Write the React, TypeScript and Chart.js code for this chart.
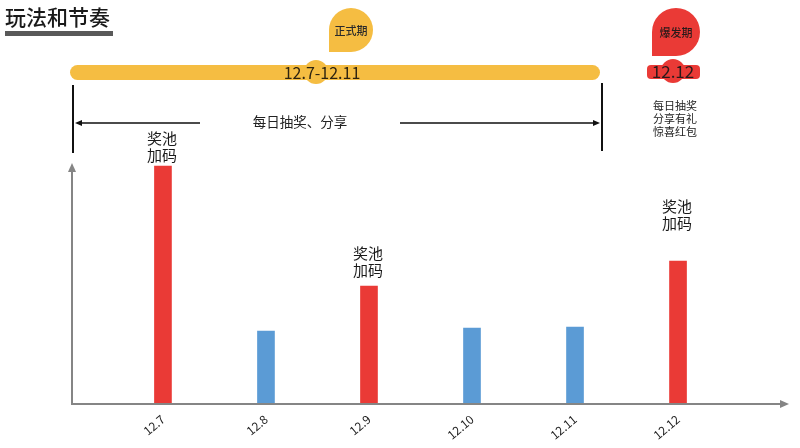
import React, { useEffect, useRef } from 'react';
import { Chart, registerables } from 'chart.js';

Chart.register(...registerables);

// ---- data ----
const categories = ['12.7', '12.8', '12.9', '12.10', '12.11', '12.12'];
const values = [238, 73, 118, 76, 77, 143];
const barKinds = ['boost', 'normal', 'boost', 'normal', 'normal', 'boost'];
const barNotes = ['奖池\n加码', '', '奖池\n加码', '', '', '奖池\n加码'];
const sideNotes = ['每日抽奖', '分享有礼', '惊喜红包'];
const titleText = '玩法和节奏';
const phaseNames = ['正式期', '爆发期'];
const phaseRanges = ['12.7-12.11', '12.12'];
const dailyText = '每日抽奖、分享';

// ---- styles ----
const FONT = '"Noto Sans CJK SC", "Noto Sans", sans-serif';
const RED = '#EA3A36';
const BLUE = '#5B9BD5';
const YELLOW = '#F5BD42';
const AXIS = '#858585';
const NOTE_GAP = [11, 0, 16, 0, 0, 38];

function teardrop(ctx: CanvasRenderingContext2D, cx: number, cy: number, r: number, color: string) {
  ctx.beginPath();
  ctx.moveTo(cx - r, cy);
  ctx.arc(cx, cy, r, Math.PI, Math.PI * 2.5, false);
  ctx.lineTo(cx - r, cy + r);
  ctx.closePath();
  ctx.fillStyle = color;
  ctx.fill();
}

function text(ctx: CanvasRenderingContext2D, s: string, x: number, y: number, size: number, color: string, align: CanvasTextAlign = 'center', weight = 'normal') {
  ctx.font = `${weight} ${size}px ${FONT}`;
  ctx.fillStyle = color;
  ctx.textAlign = align;
  ctx.textBaseline = 'middle';
  ctx.fillText(s, x, y);
}

const decorPlugin = {
  id: 'decor',
  afterDatasetsDraw(chart: any) {
    const ctx: CanvasRenderingContext2D = chart.ctx;
    const { left, right, top, bottom } = chart.chartArea;
    ctx.save();
    // axes
    ctx.strokeStyle = AXIS;
    ctx.lineWidth = 2;
    ctx.beginPath();
    ctx.moveTo(left, bottom);
    ctx.lineTo(left, top + 6);
    ctx.moveTo(left - 1, bottom);
    ctx.lineTo(right - 6, bottom);
    ctx.stroke();
    ctx.fillStyle = AXIS;
    ctx.beginPath();
    ctx.moveTo(left, top);
    ctx.lineTo(left - 4, top + 9);
    ctx.lineTo(left + 4, top + 9);
    ctx.closePath();
    ctx.fill();
    ctx.beginPath();
    ctx.moveTo(right - 1, bottom);
    ctx.lineTo(right - 10, bottom - 4);
    ctx.lineTo(right - 10, bottom + 4);
    ctx.closePath();
    ctx.fill();

    // bar notes
    const meta = chart.getDatasetMeta(0);
    meta.data.forEach((bar: any, i: number) => {
      const note = barNotes[i];
      if (!note) return;
      const lines = note.split('\n');
      lines.forEach((ln: string, k: number) => {
        const y = bar.y - NOTE_GAP[i] - 17 * (lines.length - 1 - k);
        text(ctx, ln, bar.x - 1, y, 15, '#1a1a1a');
      });
    });

    // title
    text(ctx, titleText, 5, 17, 21, '#1a1a1a', 'left', '500');
    ctx.fillStyle = '#595959';
    ctx.fillRect(5, 31, 108, 5);

    // yellow phase bar
    ctx.fillStyle = YELLOW;
    ctx.beginPath();
    (ctx as any).roundRect(70, 65, 530, 15, 7.5);
    ctx.fill();
    ctx.beginPath();
    ctx.arc(316, 72, 12, 0, Math.PI * 2);
    ctx.fill();
    teardrop(ctx, 351, 30, 22, YELLOW);
    text(ctx, phaseNames[0], 351, 31, 11, '#2a2a2a', 'center', '500');
    text(ctx, phaseRanges[0], 322, 73, 16, '#2e2410');

    // red phase
    ctx.fillStyle = RED;
    ctx.beginPath();
    (ctx as any).roundRect(647, 65, 53, 14, 4);
    ctx.fill();
    ctx.beginPath();
    ctx.arc(673, 71, 12, 0, Math.PI * 2);
    ctx.fill();
    teardrop(ctx, 676, 32, 24, RED);
    text(ctx, phaseNames[1], 676, 33, 11, '#2a1a1a', 'center', '500');
    text(ctx, phaseRanges[1], 673, 72, 17, '#2a1a1a');
    sideNotes.forEach((s, k) => text(ctx, s, 675, 106 + 13 * k, 11, '#222'));

    // bracket lines and arrows
    ctx.strokeStyle = '#111';
    ctx.lineWidth = 2;
    ctx.beginPath();
    ctx.moveTo(73, 85);
    ctx.lineTo(73, 153);
    ctx.moveTo(602, 83);
    ctx.lineTo(602, 151);
    ctx.stroke();
    ctx.lineWidth = 1.5;
    ctx.beginPath();
    ctx.moveTo(80, 123);
    ctx.lineTo(200, 123);
    ctx.moveTo(400, 123);
    ctx.lineTo(594, 123);
    ctx.stroke();
    ctx.fillStyle = '#111';
    ctx.beginPath();
    ctx.moveTo(75, 123);
    ctx.lineTo(82, 120);
    ctx.lineTo(82, 126);
    ctx.closePath();
    ctx.fill();
    ctx.beginPath();
    ctx.moveTo(600, 123);
    ctx.lineTo(593, 120);
    ctx.lineTo(593, 126);
    ctx.closePath();
    ctx.fill();
    text(ctx, dailyText, 300, 122, 13.5, '#222');
    ctx.restore();
  },
};

export default function App() {
  const ref = useRef<HTMLCanvasElement>(null);
  useEffect(() => {
    if (!ref.current) return;
    const chart = new Chart(ref.current, {
      type: 'bar',
      data: {
        datasets: [
          {
            data: values.map((v, i) => ({ x: i, y: v })),
            backgroundColor: barKinds.map((k) => (k === 'boost' ? RED : BLUE)),
            barThickness: 17,
          },
        ],
      },
      options: {
        animation: false,
        responsive: false,
        devicePixelRatio: 1,
        layout: { padding: { left: 72, top: 163, right: 10, bottom: 0 } },
        plugins: { legend: { display: false }, tooltip: { enabled: false } },
        scales: {
          x: {
            type: 'linear',
            offset: false,
            min: -0.883,
            max: 6.087,
            grid: { display: false, drawTicks: false, offset: false },
            border: { display: false },
            afterBuildTicks: (scale: any) => {
              scale.ticks = categories.map((_, i) => ({ value: i }));
            },
            afterFit: (scale: any) => {
              scale.height = 44;
            },
            ticks: {
              autoSkip: false,
              minRotation: 40,
              maxRotation: 40,
              padding: 8,
              color: '#222',
              font: { family: FONT, size: 12 },
              callback: (v: any) => categories[v] ?? '',
            },
          },
          y: { display: false, min: 0, max: 241 },
        },
      },
      plugins: [decorPlugin],
    } as any);
    return () => chart.destroy();
  }, []);
  return (
    <div style={{ position: 'fixed', left: 0, top: 0, width: 800, height: 448, background: '#fff' }}>
      <canvas ref={ref} width={800} height={448} />
    </div>
  );
}
